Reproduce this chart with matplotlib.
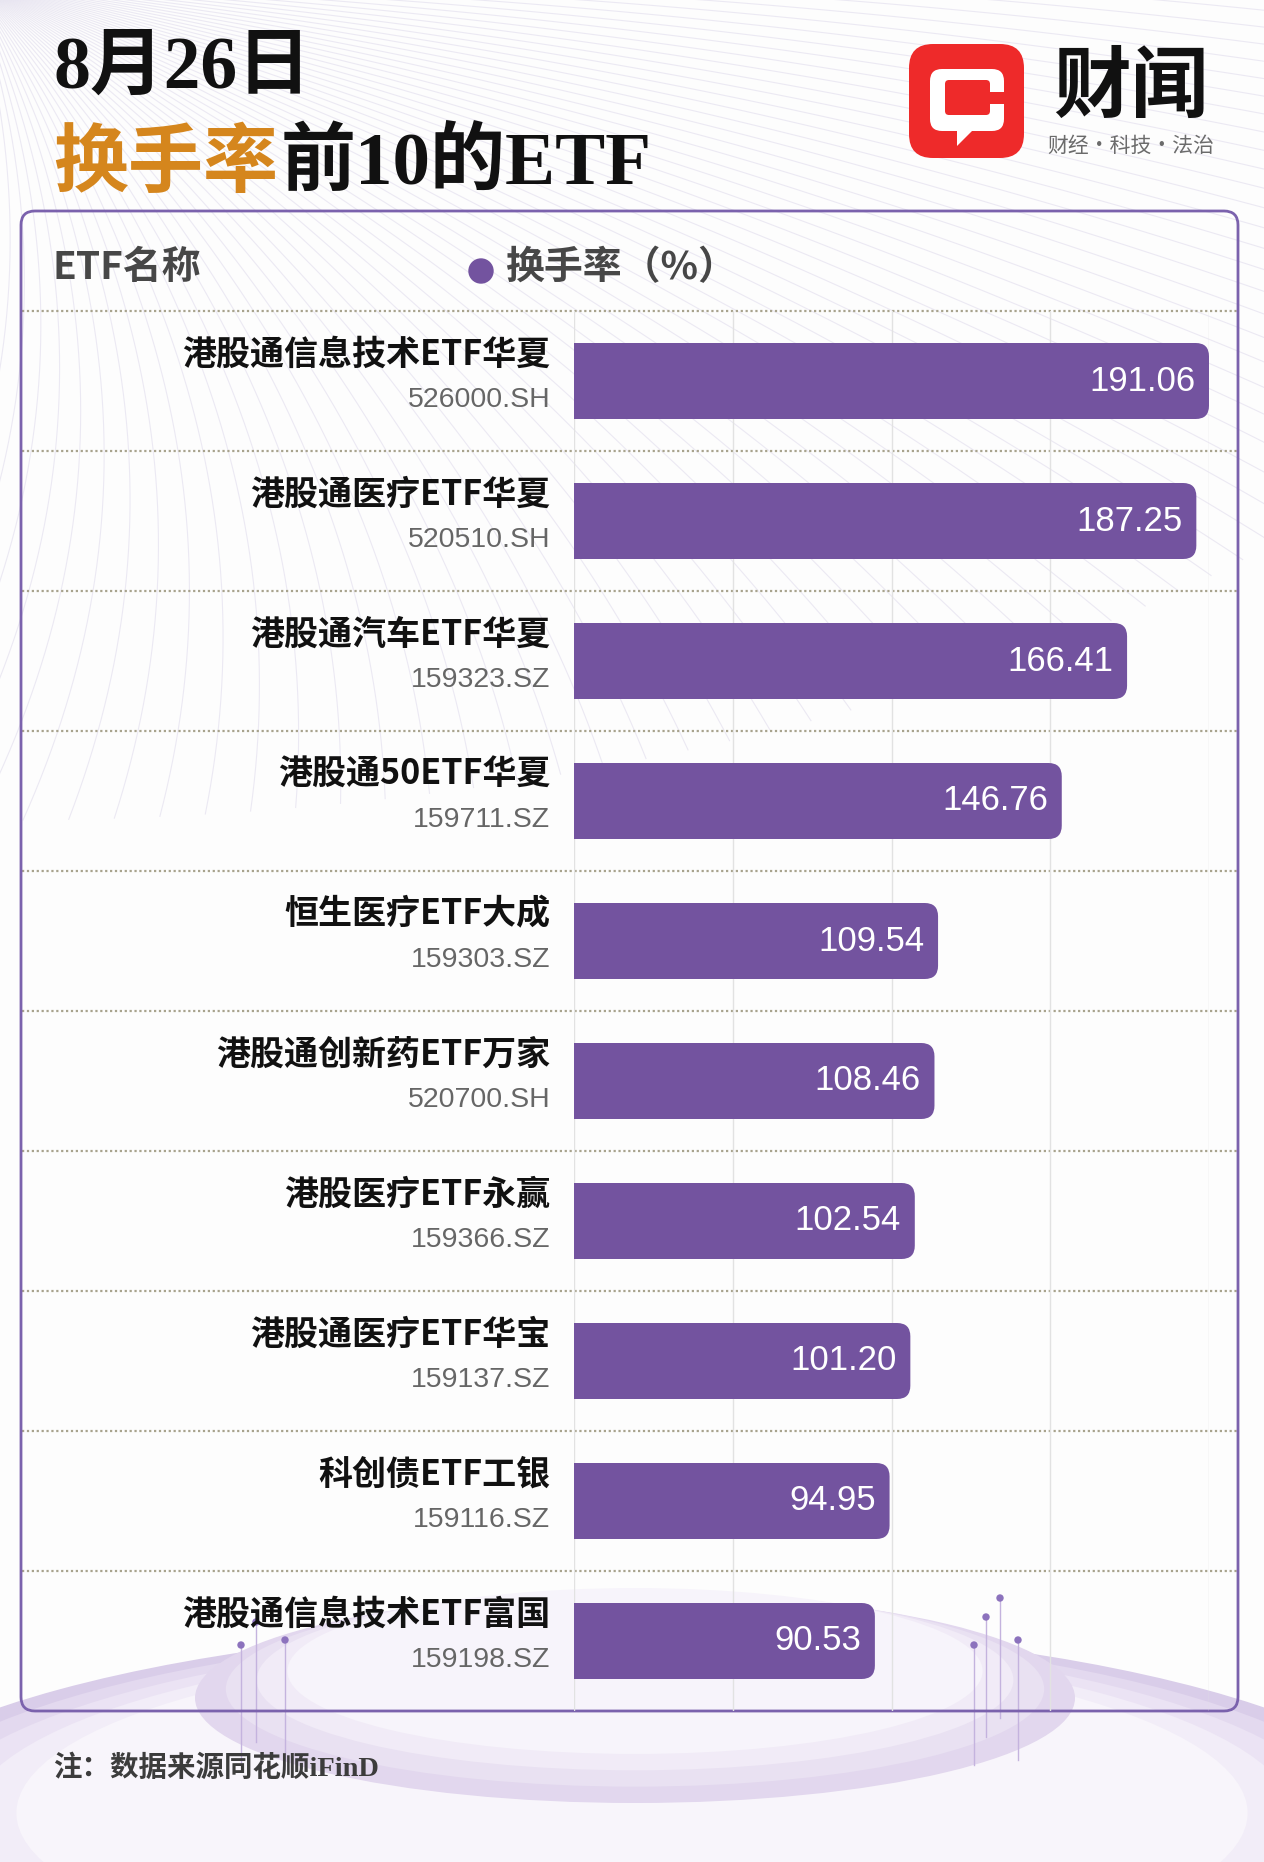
import numpy as np
import matplotlib
matplotlib.use('Agg')
import matplotlib.pyplot as plt
from matplotlib.patches import FancyBboxPatch, Ellipse, Circle, Polygon

# data
names = ['港股通信息技术ETF华夏', '港股通医疗ETF华夏', '港股通汽车ETF华夏', '港股通50ETF华夏',
         '恒生医疗ETF大成', '港股通创新药ETF万家', '港股医疗ETF永赢', '港股通医疗ETF华宝',
         '科创债ETF工银', '港股通信息技术ETF富国']
codes = ['526000.SH', '520510.SH', '159323.SZ', '159711.SZ', '159303.SZ',
         '520700.SH', '159366.SZ', '159137.SZ', '159116.SZ', '159198.SZ']
turnover = [191.06, 187.25, 166.41, 146.76, 109.54, 108.46, 102.54, 101.20, 94.95, 90.53]

CJK = ['Noto Sans CJK SC', 'DejaVu Sans']
SERIF = ['Liberation Serif', 'Noto Sans CJK SC']
LATIN = ['Liberation Sans', 'DejaVu Sans']
BAR = '#73539f'

W, H = 1264, 1862
fig = plt.figure(figsize=(W / 100, H / 100), dpi=100)
fig.patch.set_facecolor('#fdfdfd')

# background / decoration axes in pixel coordinates
bg = fig.add_axes([0, 0, 1, 1])
bg.set_xlim(0, W)
bg.set_ylim(H, 0)
bg.axis('off')

# radiating curves from the top-left corner
for a in np.linspace(3, 100, 64):
    t = np.radians(a)
    end = np.array([1700 * np.cos(t), 820 * np.sin(t)])
    ctrl = np.array([800 * np.cos(t - 0.25), 420 * np.sin(t - 0.25)])
    s = np.linspace(0, 1, 60)[:, None]
    pts = (1 - s) ** 2 * np.array([-30, -20]) + 2 * (1 - s) * s * ctrl + s ** 2 * end
    bg.plot(pts[:, 0], pts[:, 1], color='#b8aed6', lw=0.8, alpha=0.25, zorder=0)

# pedestal glow at the bottom
for k, c in enumerate(['#d9cde9', '#e3d9ef', '#ebe3f4', '#f2edf8', '#f8f5fb']):
    f = 1 - k * 0.06
    bg.add_patch(Ellipse((632, 1845 - k * 8), 1620 * f, 440 * f, color=c, zorder=1, lw=0))
for k, c in enumerate(['#e2d7ee', '#e9e1f2', '#f1ebf7', '#f7f4fb']):
    f = 1 - k * 0.07
    bg.add_patch(Ellipse((635, 1698 - k * 9), 880 * f, 210 * f, color=c, zorder=1.1, lw=0))

for px, top in [(241, 1645), (256, 1622), (285, 1640), (974, 1645), (986, 1617), (1000, 1598), (1018, 1640)]:
    bg.plot([px, px], [top, top + 120], color='#c4b3de', lw=1, zorder=1.2)
    bg.add_patch(Circle((px, top), 3, color='#8c72bd', zorder=1.3))

# panel
bg.add_patch(FancyBboxPatch((21, 211), 1217, 1500, boxstyle='round,pad=0,rounding_size=14',
                            facecolor='none', edgecolor='#7b62ad', lw=2, zorder=3))

# row separators
for k in range(len(names)):
    yy = 311 + 140 * k
    bg.plot([22, 1237], [yy, yy], color='#a8a38d', lw=1.6, ls=(0, (1, 1.2)), zorder=2.5)

# titles
bg.text(53, 70, '8月26日', family=SERIF, fontsize=53, fontweight='bold', color='#111111',
        va='center', ha='left', zorder=4)
t1 = bg.text(53, 164, '换手率', family=CJK, fontsize=54, fontweight='bold', color='#d5861d',
             va='center', ha='left', zorder=4)
bg.annotate('前10的ETF', xy=(1, 0.5), xycoords=t1, xytext=(2, 0), textcoords='offset points',
            family=SERIF, fontsize=54, fontweight='bold', color='#111111', va='center', ha='left', zorder=4)

# logo
bg.add_patch(FancyBboxPatch((909, 44), 115, 114, boxstyle='round,pad=0,rounding_size=24',
                            color='#ee2a2a', lw=0, zorder=4))
bg.add_patch(FancyBboxPatch((930, 69), 74, 62, boxstyle='round,pad=0,rounding_size=12',
                            color='white', lw=0, zorder=4.1))
bg.add_patch(FancyBboxPatch((945, 80), 45, 35, boxstyle='round,pad=0,rounding_size=4',
                            color='#ee2a2a', lw=0, zorder=4.2))
bg.add_patch(Polygon([[988, 92], [1006, 92], [1006, 104], [988, 104]], color='#ee2a2a', lw=0, zorder=4.2))
bg.add_patch(Polygon([[957, 128], [957, 146], [975, 128]], color='white', lw=0, zorder=4.1))
bg.text(1131, 88, '财闻', family=CJK, fontsize=56, fontweight='bold', color='#111111',
        ha='center', va='center', zorder=4)
bg.text(1131, 146, '财经·科技·法治', family=CJK, fontsize=15, color='#6b6b6b',
        ha='center', va='center', zorder=4)

# header row
bg.text(53, 268, 'ETF名称', family=CJK, fontsize=28, fontweight='bold', color='#474747',
        ha='left', va='center', zorder=4)
bg.add_patch(Circle((481, 271), 12, color=BAR, zorder=4))
bg.text(505, 268, '换手率（%）', family=CJK, fontsize=28, fontweight='bold', color='#474747',
        ha='left', va='center', zorder=4)

# footnote
bg.text(53, 1768, '注：数据来源同花顺iFinD', family=SERIF, fontsize=20.5, fontweight='bold',
        color='#3c3c3c', ha='left', va='center', zorder=4)

# bar chart axes
x0, x1, y_top, y_bot = 574, 1209, 311, 1711
ax = fig.add_axes([x0 / W, (H - y_bot) / H, (x1 - x0) / W, (y_bot - y_top) / H])
ax.set_facecolor('none')
vmax = max(turnover)
ax.set_xlim(0, vmax)
ax.set_ylim(len(names) - 0.5, -0.5)
for s in ax.spines.values():
    s.set_visible(False)
ax.set_xticks(vmax * np.linspace(0, 1, 5))
ax.set_yticks([])
ax.tick_params(length=0, labelbottom=False)
ax.grid(axis='x', color='#e2e2e2', lw=1)
ax.set_axisbelow(True)

bh = 76 / 140
r = 4.0
aspect = (1 / 140) / (vmax / (x1 - x0))
ypos = np.arange(len(names))
ax.barh(ypos, [v - r for v in turnover], height=bh, color=BAR, zorder=3)
for i, v in enumerate(turnover):
    ax.add_patch(FancyBboxPatch((0, i - bh / 2), v, bh, boxstyle=f'round,pad=0,rounding_size={r}',
                                mutation_aspect=aspect, color=BAR, lw=0, zorder=3))
    ax.annotate(f'{v:.2f}', xy=(v, i), xytext=(-10, 0), textcoords='offset points',
                ha='right', va='center', color='white', fontsize=25, family=LATIN, zorder=4)
    ax.annotate(names[i], xy=(0, i), xytext=(-17, 19.5), textcoords='offset points',
                ha='right', va='center', color='#111111', fontsize=24.5, fontweight='heavy',
                family=CJK, annotation_clip=False)
    ax.annotate(codes[i], xy=(0, i), xytext=(-17, -14), textcoords='offset points',
                ha='right', va='center', color='#666666', fontsize=20.5, family=LATIN,
                annotation_clip=False)

fig.savefig('out.png', dpi=100)
